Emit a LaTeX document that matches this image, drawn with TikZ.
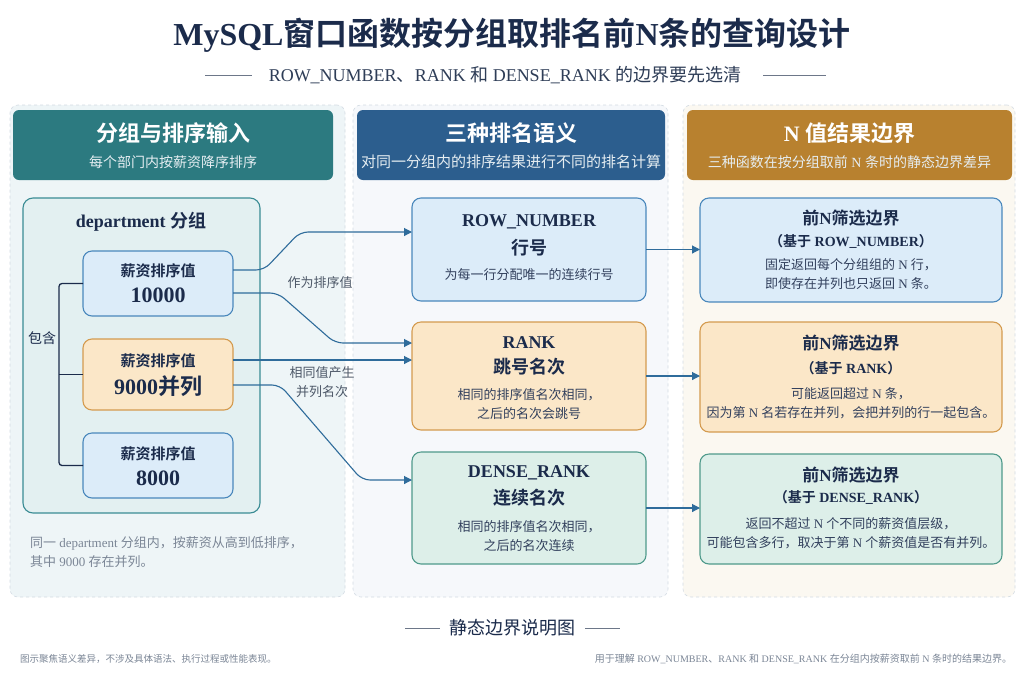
\documentclass[tikz,border=0pt]{standalone}
\usepackage{fontspec}
\setmainfont{Liberation Serif}
\newfontfamily\cjkf{Noto Sans CJK SC}[BoldFont={Noto Sans CJK SC Bold}]
\usetikzlibrary{arrows.meta}
\newXeTeXintercharclass\mycjk
\makeatletter
\count@="3000 \loop\XeTeXcharclass\count@=\mycjk \ifnum\count@<"303F \advance\count@ 1 \repeat
\count@="4E00 \loop\XeTeXcharclass\count@=\mycjk \ifnum\count@<"9FFF \advance\count@ 1 \repeat
\count@="FF00 \loop\XeTeXcharclass\count@=\mycjk \ifnum\count@<"FFEF \advance\count@ 1 \repeat
\makeatother
\XeTeXinterchartoks 0 \mycjk = {\cjkf}
\XeTeXinterchartoks 4095 \mycjk = {\cjkf}
\XeTeXinterchartoks \mycjk 0 = {\rmfamily}
\XeTeXinterchartoks \mycjk 4095 = {\rmfamily}
\XeTeXinterchartokenstate=1
\newcommand\myfs[2]{\fontsize{#1}{#2}\selectfont}
\definecolor{navy}{HTML}{1B2B4B}
\definecolor{tealH}{HTML}{2C7A80}
\definecolor{blueH}{HTML}{2C5E8E}
\definecolor{ochreH}{HTML}{B8812F}
\definecolor{p1bg}{HTML}{EEF5F7}
\definecolor{p2bg}{HTML}{F6F8FB}
\definecolor{p3bg}{HTML}{FBF8F1}
\definecolor{pborder}{HTML}{D3DBE3}
\definecolor{grpfill}{HTML}{E3F0F1}
\definecolor{grpdraw}{HTML}{3A8C94}
\definecolor{bfill}{HTML}{DCECF9}
\definecolor{bdraw}{HTML}{4A88BC}
\definecolor{ofill}{HTML}{FBE7C8}
\definecolor{odraw}{HTML}{D49B4F}
\definecolor{gfill}{HTML}{DDEFE9}
\definecolor{gdraw}{HTML}{4F9A8B}
\definecolor{arrowc}{HTML}{2F6C9B}
\definecolor{graytxt}{HTML}{7B8696}
\definecolor{subtxt}{HTML}{2E3D57}
\definecolor{lbltxt}{HTML}{4D5868}
\definecolor{hsub}{HTML}{E6EEF2}
\tikzset{
  panel/.style={draw=pborder, dashed, rounded corners=8pt, line width=0.6pt},
  hdr/.style={rounded corners=6pt, minimum width=#1},
  box/.style={draw=#1, rounded corners=9pt, line width=1.1pt},
  conn/.style={draw=arrowc, line width=1.1pt, rounded corners=8pt},
  arr/.style={conn, -{Triangle[length=8pt,width=8pt]}},
  brk/.style={draw=navy, line width=1.3pt, rounded corners=3pt},
  htitle/.style={text=white, font=\bfseries\myfs{22}{26}},
  hsubt/.style={text=hsub, font=\myfs{14}{17}},
  btitle/.style={text=navy, font=\bfseries\myfs{18}{22}},
  bdesc/.style={text=navy!90, font=\myfs{13}{19}, align=center},
  ctitle/.style={text=navy, font=\bfseries\myfs{17}{20}},
  csub/.style={text=navy, font=\bfseries\myfs{14}{17}},
}
\begin{document}
\begin{tikzpicture}[x=1pt,y=-1pt, every node/.style={inner sep=0pt, outer sep=0pt, text=navy}]
\useasboundingbox (0,0) rectangle (1024,683);
\fill[white] (0,0) rectangle (1024,683);

% title
\node[font=\bfseries\myfs{32}{38}, text=navy] (title) at (512,35) {MySQL窗口函数按分组取排名前N条的查询设计};
\node[font=\myfs{18}{21}, text=subtxt] (subtitle) at (505,75) {ROW\_NUMBER、RANK 和 DENSE\_RANK 的边界要先选清};
\draw[subtxt!70, line width=0.8pt] (205,75) -- (252,75) (763,75) -- (826,75);

% panels
\node[panel, fill=p1bg, minimum width=335pt, minimum height=492pt] (P1) at (177.5,351) {};
\node[panel, fill=p2bg, minimum width=315pt, minimum height=492pt] (P2) at (510.5,351) {};
\node[panel, fill=p3bg, minimum width=332pt, minimum height=492pt] (P3) at (849,351) {};

% headers
\node[hdr=320pt, fill=tealH, minimum height=70pt] (H1) at (173,145) {};
\node[htitle] (H1t) at (173,133) {分组与排序输入};
\node[hsubt] (H1s) at (173,162) {每个部门内按薪资降序排序};
\node[hdr=308pt, fill=blueH, minimum height=70pt] (H2) at (511,145) {};
\node[htitle] (H2t) at (511,133) {三种排名语义};
\node[hsubt, font=\myfs{15}{18}] (H2s) at (511,162) {对同一分组内的排序结果进行不同的排名计算};
\node[hdr=325pt, fill=ochreH, minimum height=70pt] (H3) at (849.5,145) {};
\node[htitle] (H3t) at (849.5,133) {N 值结果边界};
\node[hsubt] (H3s) at (849.5,162) {三种函数在按分组取前 N 条时的静态边界差异};

% column 1
\node[box=grpdraw, fill=grpfill, minimum width=237pt, minimum height=315pt, rounded corners=10pt] (grp) at (141.5,355.5) {};
\node[font=\bfseries\myfs{18}{22}] (grpt) at (141,222) {department 分组};
\node[box=bdraw, fill=bfill, minimum width=150pt, minimum height=65pt] (s1) at (158,283.5) {};
\node[box=odraw, fill=ofill, minimum width=150pt, minimum height=71pt] (s2) at (158,374.5) {};
\node[box=bdraw, fill=bfill, minimum width=150pt, minimum height=65pt] (s3) at (158,465.5) {};
\node[font=\bfseries\myfs{15}{18}] (s1a) at (158,271) {薪资排序值};
\node[font=\bfseries\myfs{22}{26}] (s1b) at (158,295) {10000};
\node[font=\bfseries\myfs{15}{18}] (s2a) at (158,361) {薪资排序值};
\node[font=\bfseries\myfs{22}{26}] (s2b) at (158,386) {9000并列};
\node[font=\bfseries\myfs{15}{18}] (s3a) at (158,454) {薪资排序值};
\node[font=\bfseries\myfs{22}{26}] (s3b) at (158,478) {8000};
\coordinate (bx) at (59,375);
\draw[brk] (s1.west) -- (s1.west -| bx) -- (s3.west -| bx) -- (s3.west);
\draw[brk] (s2.west) -- (s2.west -| bx);
\node[font=\myfs{14}{17}] (inc) at (42,338) {包含};
\node[font=\myfs{13}{19}, text=graytxt, align=left, anchor=west] (note1) at (30,552) {同一 department 分组内，按薪资从高到低排序，\\其中 9000 存在并列。};

% column 2
\node[box=bdraw, fill=bfill, minimum width=234pt, minimum height=103pt] (rn) at (529,249.5) {};
\node[btitle] (rnA) at (529,222) {ROW\_NUMBER};
\node[btitle] (rnB) at (529,248) {行号};
\node[bdesc] (rnC) at (529,275) {为每一行分配唯一的连续行号};
\node[box=odraw, fill=ofill, minimum width=234pt, minimum height=108pt] (rk) at (529,376) {};
\node[btitle] (rkA) at (529,343) {RANK};
\node[btitle] (rkB) at (529,367) {跳号名次};
\node[bdesc] (rkC) at (529,404.5) {相同的排序值名次相同，\\之后的名次会跳号};
\node[box=gdraw, fill=gfill, minimum width=234pt, minimum height=112pt] (dr) at (529,508) {};
\node[btitle] (drA) at (529,473) {DENSE\_RANK};
\node[btitle] (drB) at (529,498) {连续名次};
\node[bdesc] (drC) at (529,536.5) {相同的排序值名次相同，\\之后的名次连续};

% column 3
\node[box=bdraw, fill=bfill, minimum width=302pt, minimum height=104pt] (b1) at (851,250) {};
\node[ctitle] (b1A) at (851,218) {前N筛选边界};
\node[csub] (b1B) at (851,241) {（基于 ROW\_NUMBER）};
\node[bdesc] (b1C) at (851,274.5) {固定返回每个分组组的 N 行，\\即使存在并列也只返回 N 条。};
\node[box=odraw, fill=ofill, minimum width=302pt, minimum height=110pt] (b2) at (851,377) {};
\node[ctitle] (b2A) at (851,343) {前N筛选边界};
\node[csub] (b2B) at (851,368) {（基于 RANK）};
\node[bdesc] (b2C) at (851,403) {可能返回超过 N 条，\\因为第 N 名若存在并列，会把并列的行一起包含。};
\node[box=gdraw, fill=gfill, minimum width=302pt, minimum height=110pt] (b3) at (851,509) {};
\node[ctitle] (b3A) at (851,475) {前N筛选边界};
\node[csub] (b3B) at (851,497) {（基于 DENSE\_RANK）};
\node[bdesc] (b3C) at (851,533.5) {返回不超过 N 个不同的薪资值层级，\\可能包含多行，取决于第 N 个薪资值是否有并列。};

% connectors col1 -> col2
\draw[arr] ([yshift=13.5pt]s1.east) -- ++(31,0) -- (300,232) -- ([yshift=17.5pt]rn.west);
\draw[arr] ([yshift=-9.5pt]s1.east) -- ++(45,0) -- (335,343) -- ([yshift=33pt]rk.west);
\draw[arr] ([yshift=14.5pt]s2.east) -- ([yshift=16pt]rk.west);
\draw[arr] ([yshift=-10.5pt]s2.east) -- ++(47,0) -- (362,480) -- ([yshift=28pt]dr.west);
\node[font=\myfs{13}{16}, text=lbltxt] (l1) at (320,283) {作为排序值};
\node[font=\myfs{13}{19}, text=lbltxt, align=center] (l2) at (322,382) {相同值产生\\并列名次};

% connectors col2 -> col3
\draw[arr] (rn.east) -- (rn.east -| b1.west);
\draw[arr] (rk.east) -- (rk.east -| b2.west);
\draw[arr] (dr.east) -- (dr.east -| b3.west);

% footer
\node[font=\myfs{18}{22}, text=navy] (foot) at (512,628) {静态边界说明图};
\draw[subtxt!70, line width=0.9pt] (405,628) -- (440,628) (585,628) -- (620,628);
\node[font=\myfs{9.5}{11}, text=graytxt, anchor=west] (fl) at (20,659) {图示聚焦语义差异，不涉及具体语法、执行过程或性能表现。};
\node[font=\myfs{10}{12}, text=graytxt, anchor=east] (fr) at (1012,659) {用于理解 ROW\_NUMBER、RANK 和 DENSE\_RANK 在分组内按薪资取前 N 条时的结果边界。};
\end{tikzpicture}
\end{document}
